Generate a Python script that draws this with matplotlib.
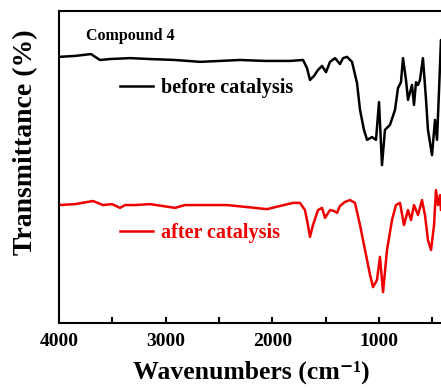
import matplotlib
matplotlib.use("Agg")
import matplotlib.pyplot as plt
from matplotlib.lines import Line2D
from matplotlib.ticker import MultipleLocator

# Data (wavenumber in cm^-1, transmittance in arbitrary %)
wn_before = [4000, 3850, 3700, 3616, 3522, 3334, 3147, 2912, 2678, 2491, 2303, 2069, 1834,
             1712, 1675, 1647, 1609, 1572, 1534, 1497, 1459, 1412, 1366, 1337, 1300, 1253,
             1206, 1178, 1141, 1112, 1066, 1028, 1000, 972, 944, 897, 850, 822, 794, 775,
             747, 728, 691, 672, 653, 634, 616, 588, 559, 541, 503, 475, 456, 437, 419, 400]
t_before = [85.3, 85.6, 86.2, 84.3, 84.6, 84.9, 84.6, 84.3, 83.7, 84.0, 84.3, 84.0, 84.0,
            84.3, 81.7, 77.9, 79.2, 81.1, 82.4, 80.4, 83.7, 84.9, 83.0, 84.9, 85.3, 83.7,
            76.9, 68.3, 61.9, 58.7, 59.6, 58.7, 70.8, 50.6, 61.9, 63.5, 68.3, 75.3, 77.2, 84.9,
            77.9, 71.5, 76.3, 69.9, 77.2, 76.3, 77.9, 84.9, 71.5, 61.9, 53.8, 65.1, 58.7, 74.7, 90.7, 88.0]

wn_after = [4000, 3850, 3681, 3588, 3503, 3428, 3381, 3288, 3147, 2912, 2819, 2425, 2050,
            1806, 1741, 1694, 1666, 1647, 1619, 1572, 1534, 1506, 1459, 1422, 1394, 1366,
            1319, 1272, 1225, 1178, 1131, 1084, 1056, 1019, 991, 962, 925, 878, 841, 803,
            766, 728, 700, 672, 634, 597, 569, 541, 512, 484, 466, 447, 428, 419, 400]
t_after = [37.8, 38.1, 39.1, 37.8, 38.1, 36.9, 37.8, 37.8, 38.1, 36.9, 37.8, 37.8, 36.5,
           38.5, 38.5, 36.2, 31.4, 27.6, 31.4, 36.2, 36.9, 33.7, 36.2, 35.9, 35.3, 37.5,
           38.8, 39.4, 38.5, 31.4, 23.4, 15.4, 11.5, 13.8, 21.2, 9.9, 23.4, 33.0, 37.8, 38.5,
           31.4, 36.2, 33.0, 37.8, 34.6, 39.4, 34.6, 26.6, 23.4, 31.4, 42.6, 37.8, 41.0, 36.2, 38.0]

x_ticks = [4000, 3000, 2000, 1000]
x_tick_labels = ["4000", "3000", "2000", "1000"]
label_before = "before catalysis"
label_after = "after catalysis"
title_text = "Compound 4"

plt.rcParams['font.family'] = ['Liberation Serif', 'DejaVu Serif']

fig = plt.figure(figsize=(4.41, 3.90), dpi=100)
ax = fig.add_axes([59/441, 67/390, 384/441, 312/390])

ax.plot(wn_before, t_before, color='black', lw=1.8)
ax.plot(wn_after, t_after, color='#ee0000', lw=1.8)

ax.set_xlim(4000, 400)
ax.set_ylim(0, 100)

for s in ax.spines.values():
    s.set_linewidth(1.5)

ax.set_xticks(x_ticks)
ax.set_xticklabels(x_tick_labels, fontsize=14, fontweight='bold')
ax.xaxis.set_minor_locator(MultipleLocator(500))
ax.tick_params(axis='x', which='both', direction='in', length=4, width=1.5, pad=7)
ax.set_yticks([])

ax.set_xlabel("Wavenumbers (cm\u207b\u00b9)", fontsize=18.5, fontweight='bold', labelpad=8)
ax.set_ylabel("Transmittance (%)", fontsize=20, fontweight='bold')
ax.yaxis.set_label_coords(-0.055, 0.58)

ax.text(0.070, 0.907, title_text, transform=ax.transAxes, fontsize=11.5, fontweight='bold',
        ha='left', va='baseline')

h1 = Line2D([], [], color='black', lw=1.8)
h2 = Line2D([], [], color='#ee0000', lw=1.8)
leg1 = ax.legend([h1], [label_before], loc='center left', bbox_to_anchor=(0.159, 0.753),
                 frameon=False, borderpad=0, borderaxespad=0, handlelength=1.65,
                 handletextpad=0.4, prop={'weight': 'bold', 'size': 14.5})
ax.add_artist(leg1)
leg2 = ax.legend([h2], [label_after], loc='center left', bbox_to_anchor=(0.159, 0.289),
                 frameon=False, borderpad=0, borderaxespad=0, handlelength=1.65,
                 handletextpad=0.4, prop={'weight': 'bold', 'size': 14.5}, labelcolor='#ee0000')

fig.savefig("out.png", dpi=100)
